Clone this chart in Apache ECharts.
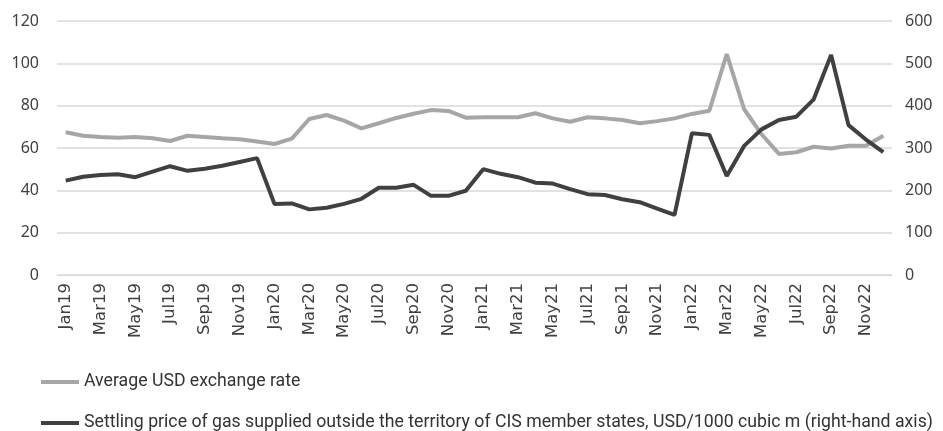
<!DOCTYPE html>
<html>
<head>
<meta charset="utf-8">
<script src="https://cdn.jsdelivr.net/npm/echarts@6/dist/echarts.min.js"></script>
<style>
  html, body { margin: 0; padding: 0; background: #fff; }
  #chart { width: 943px; height: 431px; }
</style>
</head>
<body>
<div id="chart"></div>
<script>
var months = ['Jan', 'Feb', 'Mar', 'Apr', 'May', 'Jun', 'Jul', 'Aug', 'Sep', 'Oct', 'Nov', 'Dec']
var years = ['19', '20', '21', '22']
var categories = []
years.forEach(function(y) {
  months.forEach(function(m) { categories.push(m + y) })
})

// left axis
var usdRate = [
  67.4, 65.8, 65.2, 64.9, 65.2, 64.6, 63.3, 65.8, 65.2, 64.6, 64.1, 63.1,
  61.9, 64.4, 73.7, 75.6, 72.9, 69.3, 71.7, 74.2, 76.2, 77.9, 77.5, 74.3,
  74.5, 74.5, 74.5, 76.4, 74.0, 72.4, 74.5, 74.0, 73.2, 71.7, 72.7, 74.0,
  76.1, 77.6, 104.4, 78.3, 66.5, 57.2, 58.0, 60.6, 59.8, 61.1, 61.1, 65.8
]
// right axis
var gasPrice = [
  223, 232, 236, 238, 231, 244, 257, 246, 251, 258, 267, 276,
  168, 169, 155, 159, 168, 180, 206, 206, 213, 187, 187, 199,
  250, 239, 231, 218, 216, 203, 191, 189, 179, 172, 157, 142,
  335, 331, 234, 305, 344, 366, 374, 415, 520, 354, 320, 290
]

var seriesNames = [
  'Average USD exchange rate',
  'Settling price of gas supplied outside the territory of CIS member states, USD/1000 cubic m (right-hand axis)'
]

var myChart = echarts.init(document.getElementById('chart'), null, { renderer: 'canvas' })

var legendText = {
  fontFamily: 'Roboto',
  fontSize: 17.7,
  color: '#333'
}

var option = {
  animation: false,
  grid: {
    left: 57,
    right: 51,
    top: 21,
    bottom: 156
  },
  legend: [
    {
      data: [seriesNames[0]],
      left: 36,
      top: 368,
      icon: 'rect',
      itemWidth: 38,
      itemHeight: 4,
      textStyle: legendText
    },
    {
      data: [seriesNames[1]],
      left: 36,
      top: 409,
      icon: 'rect',
      itemWidth: 38,
      itemHeight: 4,
      textStyle: legendText
    }
  ],
  xAxis: {
    type: 'category',
    data: categories,
    boundaryGap: true,
    axisLine: { show: true, lineStyle: { color: '#d9d9d9' } },
    axisTick: { show: false },
    axisLabel: {
      interval: 1,
      rotate: 90,
      margin: 8,
      fontFamily: 'DejaVu Sans',
      fontSize: 16.5,
      color: '#404040'
    }
  },
  yAxis: [
    {
      type: 'value',
      min: 0,
      max: 120,
      interval: 20,
      axisLine: { show: false },
      axisTick: { show: false },
      splitLine: { lineStyle: { color: '#d9d9d9', width: 1.5 } },
      axisLabel: {
        margin: 18,
        fontFamily: 'Noto Sans',
        fontSize: 16,
        color: '#404040'
      }
    },
    {
      type: 'value',
      min: 0,
      max: 600,
      interval: 100,
      axisLine: { show: false },
      axisTick: { show: false },
      splitLine: { show: false },
      axisLabel: {
        margin: 13,
        fontFamily: 'Noto Sans',
        fontSize: 16,
        color: '#404040'
      }
    }
  ],
  series: [
    {
      name: seriesNames[0],
      type: 'line',
      yAxisIndex: 0,
      data: usdRate,
      symbol: 'none',
      itemStyle: { color: '#a6a6a6' },
      lineStyle: { color: '#a6a6a6', width: 4 }
    },
    {
      name: seriesNames[1],
      type: 'line',
      yAxisIndex: 1,
      data: gasPrice,
      symbol: 'none',
      itemStyle: { color: '#404040' },
      lineStyle: { color: '#404040', width: 4 }
    }
  ]
}

option && myChart.setOption(option)
</script>
</body>
</html>
